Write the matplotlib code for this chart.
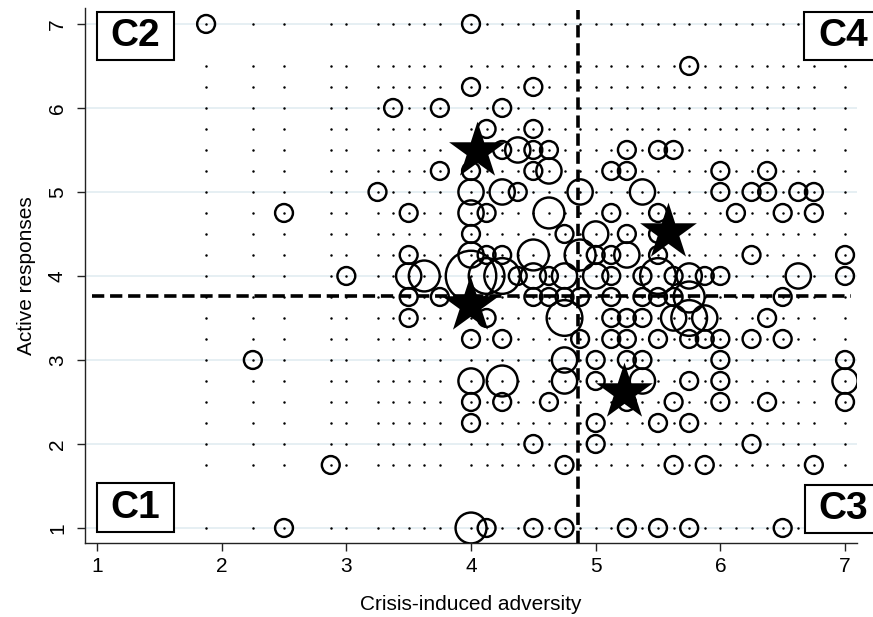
import matplotlib
matplotlib.use("Agg")
import matplotlib.pyplot as plt
from matplotlib.patches import Rectangle

plt.rcParams['font.family'] = ['Liberation Sans', 'DejaVu Sans']

# ---- data ----
grid_x = [1.875, 2.25, 2.5, 2.875, 3.0, 3.25, 3.375, 3.5, 3.625, 3.75, 4.0, 4.125,
          4.25, 4.375, 4.5, 4.625, 4.75, 4.875, 5.0, 5.125, 5.25, 5.375, 5.5, 5.625,
          5.75, 5.875, 6.0, 6.125, 6.25, 6.375, 6.5, 6.625, 6.75, 7.0]
grid_y = [1.0, 1.75, 2.0, 2.25, 2.5, 2.75, 3.0, 3.25, 3.5, 3.75, 4.0, 4.25, 4.5,
          4.75, 5.0, 5.25, 5.5, 5.75, 6.0, 6.25, 6.5, 7.0]

rows = {
    7.0: [(1.875, 1), (4.0, 1)],
    6.5: [(5.75, 1)],
    6.25: [(4.0, 1), (4.5, 1)],
    6.0: [(3.375, 1), (3.75, 1), (4.25, 1)],
    5.75: [(4.125, 1), (4.5, 1)],
    5.5: [(4.25, 1), (4.375, 2), (4.5, 1), (4.625, 1), (5.25, 1), (5.5, 1), (5.625, 1)],
    5.25: [(3.75, 1), (4.0, 1), (4.5, 1), (4.625, 2), (5.125, 1), (5.25, 1), (6.0, 1), (6.375, 1)],
    5.0: [(3.25, 1), (4.0, 2), (4.25, 2), (4.375, 1), (4.875, 2), (5.375, 2), (6.0, 1),
          (6.25, 1), (6.375, 1), (6.625, 1), (6.75, 1)],
    4.75: [(2.5, 1), (3.5, 1), (4.0, 2), (4.125, 1), (4.625, 3), (5.125, 1), (5.5, 1),
           (6.125, 1), (6.5, 1), (6.75, 1)],
    4.5: [(4.0, 1), (4.75, 1), (5.0, 2), (5.25, 1), (5.5, 1)],
    4.25: [(3.5, 1), (4.0, 2), (4.125, 1), (4.25, 1), (4.5, 3), (4.875, 3), (5.0, 1),
           (5.125, 1), (5.25, 2), (5.5, 1), (6.25, 1), (7.0, 1)],
    4.0: [(3.0, 1), (3.5, 2), (3.625, 3), (4.0, 8), (4.125, 4), (4.25, 4), (4.375, 1),
          (4.5, 2), (4.625, 1), (4.75, 2), (5.0, 2), (5.125, 1), (5.375, 1), (5.5, 4),
          (5.625, 1), (5.75, 2), (5.875, 1), (6.0, 1), (6.625, 2), (7.0, 1)],
    3.75: [(3.5, 1), (3.75, 1), (4.5, 1), (4.625, 1), (4.75, 1), (4.875, 1), (5.125, 1),
           (5.375, 1), (5.5, 1), (5.625, 1), (5.75, 3), (6.5, 1)],
    3.5: [(3.5, 1), (4.125, 1), (4.75, 4), (5.125, 1), (5.25, 1), (5.375, 1), (5.625, 2),
          (5.75, 4), (5.875, 2), (6.375, 1)],
    3.25: [(4.0, 1), (4.25, 1), (4.875, 1), (5.125, 1), (5.25, 1), (5.5, 1), (5.75, 1),
           (5.875, 1), (6.0, 1), (6.25, 1), (6.5, 1)],
    3.0: [(2.25, 1), (4.75, 2), (5.0, 1), (5.25, 1), (5.375, 1), (6.0, 1), (7.0, 1)],
    2.75: [(4.0, 2), (4.25, 3), (4.75, 2), (5.0, 1), (5.375, 2), (5.75, 1), (6.0, 1), (7.0, 2)],
    2.5: [(4.0, 1), (4.25, 1), (4.625, 1), (5.25, 1), (5.625, 1), (6.0, 1), (6.375, 1), (7.0, 1)],
    2.25: [(4.0, 1), (5.0, 1), (5.5, 1), (5.75, 1)],
    2.0: [(4.5, 1), (5.0, 1), (6.25, 1)],
    1.75: [(2.875, 1), (4.75, 1), (5.625, 1), (5.875, 1), (6.75, 1)],
    1.0: [(2.5, 1), (4.0, 3), (4.125, 1), (4.5, 1), (4.75, 1), (5.25, 1), (5.5, 1),
          (5.75, 1), (6.5, 1)],
}
circ_x, circ_y, circ_w = [], [], []
for yv, items in rows.items():
    for xv, wv in items:
        circ_x.append(xv)
        circ_y.append(yv)
        circ_w.append(wv)

star_x = [4.045, 5.583, 3.99, 5.227]
star_y = [5.485, 4.526, 3.655, 2.613]

mean_x = 4.862
mean_y = 3.762

x_ticks = [1, 2, 3, 4, 5, 6, 7]
y_ticks = [1, 2, 3, 4, 5, 6, 7]
x_label = "Crisis-induced adversity"
y_label = "Active responses"
cluster_labels = ["C1", "C2", "C3", "C4"]

# ---- figure ----
W, H = 873, 617
fig = plt.figure(figsize=(W / 100, H / 100), dpi=100)
ax_w = 857 - 85
ax = fig.add_axes([85 / W, 1 - 543 / H, ax_w / W, (543 - 8) / H])
ax.set_xlim(0.9037, 7.096)
ax.set_ylim(0.8214, 7.19)

for s in ['top', 'right']:
    ax.spines[s].set_visible(False)
for s in ['left', 'bottom']:
    ax.spines[s].set_linewidth(1.0)
    ax.spines[s].set_color('#222222')

ax.set_yticks(y_ticks)
ax.set_xticks(x_ticks)
ax.tick_params(axis='both', labelsize=15, length=6, width=1.0, color='#222222')
ax.tick_params(axis='x', pad=4)
ax.tick_params(axis='y', pad=7)
for lab in ax.get_yticklabels():
    lab.set_rotation(90)
    lab.set_va('center')
ax.yaxis.grid(True, color='#E4EEF2', linewidth=1.3)
ax.set_axisbelow(True)

ax.set_xlabel(x_label, fontsize=15, labelpad=14)
ax.set_ylabel(y_label, fontsize=15)
ax.yaxis.set_label_coords((36 - 85) / ax_w, 0.5)

# grid of dots
gx = [x for x in grid_x for _ in grid_y]
gy = [y for _ in grid_x for y in grid_y]
ax.scatter(gx, gy, s=3.2, color='black', linewidths=0, zorder=2)

# weighted hollow circles
unit = 165
ax.scatter(circ_x, circ_y, s=[unit * w for w in circ_w], facecolors='none',
           edgecolors='black', linewidths=1.75, zorder=3)

# mean lines
ax.plot([0.96, 7.05], [mean_y, mean_y], color='black', lw=2.6,
        linestyle=(0, (3.4, 1.6)), zorder=4, clip_on=False)
ax.plot([mean_x, mean_x], [0.8214, 7.17], color='black', lw=2.6,
        linestyle=(0, (3.4, 1.6)), zorder=4, clip_on=False)

# stars
ax.scatter(star_x, star_y, marker='*', s=43 ** 2, color='black', linewidths=0, zorder=5)

# cluster label boxes (pixel positions)
boxes = {
    "C1": (97, 483, 174, 532),
    "C2": (97, 12, 174, 60),
    "C3": (805, 485, 882, 533),
    "C4": (804, 12, 882, 60),
}
for lab in cluster_labels:
    x0, y0, x1, y1 = boxes[lab]
    rect = Rectangle((x0 / W, 1 - y1 / H), (x1 - x0) / W, (y1 - y0) / H,
                     transform=fig.transFigure, facecolor='white', edgecolor='black',
                     linewidth=1.5, zorder=10)
    fig.add_artist(rect)
    fig.text((x0 + x1) / 2 / W, 1 - (y0 + y1) / 2 / H, lab, fontsize=28,
             fontweight='bold', ha='center', va='center', zorder=11)

fig.savefig("out.png", dpi=100)
